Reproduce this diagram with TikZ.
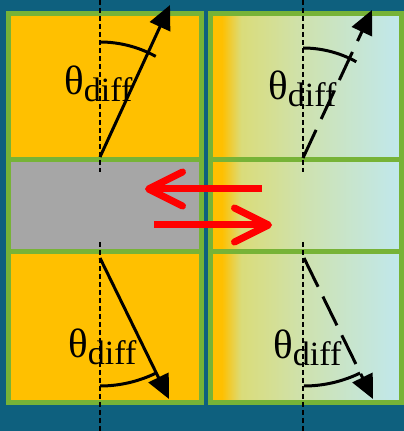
\documentclass[tikz,border=0pt]{standalone}
\usepackage{fontspec}
\newfontfamily\labelfont{Liberation Serif}
\usepackage{tikz}
\usetikzlibrary{arrows.meta}

\definecolor{bgteal}{RGB}{14,96,126}
\definecolor{cellgreen}{RGB}{119,179,55}
\definecolor{amber}{RGB}{255,192,0}
\definecolor{slab}{RGB}{166,166,166}
\definecolor{sand}{RGB}{218,220,122}
\definecolor{sage}{RGB}{206,226,176}
\definecolor{ice}{RGB}{192,232,238}
\pgfdeclarehorizontalshading{blend}{100bp}{color(0bp)=(amber); color(28bp)=(amber);
  color(33bp)=(sand); color(50bp)=(sage); color(75bp)=(ice); color(100bp)=(ice)}

\newcommand{\thdiff}{{\labelfont\fontsize{41}{41}\selectfont θ}\raisebox{-7pt}{\labelfont\fontsize{34}{34}\selectfont diff}}

\begin{document}
\begin{tikzpicture}[x=1pt, y=1pt,
    cell/.style={draw=cellgreen, line width=5pt},
    normal/.style={line width=2.5pt, dash pattern=on 5pt off 3pt},
    ray/.style={line width=3pt, -{Triangle[length=24pt, width=22pt]}},
    angarc/.style={line width=3pt},
    flux/.style={red, line width=7pt, -{Straight Barb[length=34pt, width=34pt, round]}},
    lab/.style={anchor=base west, inner sep=0pt}]
  \fill[bgteal] (0,0) rectangle (404,431);
  \useasboundingbox (0,0) rectangle (404,431);

  \fill[amber] (8.5,417.5) rectangle (201.5,271.5);
  \fill[slab] (8.5,271.5) rectangle (201.5,179.5);
  \fill[amber] (8.5,179.5) rectangle (201.5,28.5);
  \shade[shading=blend] (210.5,417.5) rectangle (401.5,271.5);
  \shade[shading=blend] (210.5,271.5) rectangle (401.5,179.5);
  \shade[shading=blend] (210.5,179.5) rectangle (401.5,28.5);
  \draw[cell] (8.5,417.5) rectangle (201.5,271.5);
  \draw[cell] (8.5,271.5) rectangle (201.5,179.5);
  \draw[cell] (8.5,179.5) rectangle (201.5,28.5);
  \draw[cell] (210.5,417.5) rectangle (401.5,271.5);
  \draw[cell] (210.5,271.5) rectangle (401.5,179.5);
  \draw[cell] (210.5,179.5) rectangle (401.5,28.5);

  \coordinate (tlbase) at (100,274);
  \coordinate (tltip) at (170,426);
  \coordinate (blbase) at (100,173);
  \coordinate (bltip) at (169,32);
  \coordinate (trbase) at (303,273);
  \coordinate (trtip) at (372,421);
  \coordinate (brbase) at (304,173);
  \coordinate (brtip) at (373,32);

  \draw[normal] (100,431) -- (100,259);
  \draw[normal] (100,189) -- (100,0);
  \draw[normal] (303,431) -- (303,259);
  \draw[normal] (303,189) -- (303,0);

  \draw[ray] (tlbase) -- (tltip);
  \draw[ray] (blbase) -- (bltip);
  \draw[ray, dash pattern=on 31pt off 12pt] (trbase) -- (trtip);
  \draw[ray, dash pattern=on 32pt off 11pt] (brbase) -- (brtip);

  \draw[angarc] (tlbase) ++(90:115) arc (90:61:115);
  \draw[angarc] (blbase) ++(-90:128) arc (-90:-64:128);
  \draw[angarc] (trbase) ++(90:110) arc (90:61:110);
  \draw[angarc] (brbase) ++(-90:128) arc (-90:-64:128);

  \node[lab] (tllab) at (64,336) {\thdiff};
  \node[lab] (trlab) at (268,331) {\thdiff};
  \node[lab] (bllab) at (68,73) {\thdiff};
  \node[lab] (brlab) at (273,72) {\thdiff};

  \coordinate (backstart) at (262,242);
  \coordinate (backtip) at (145,242);
  \coordinate (fwdstart) at (154,206);
  \coordinate (fwdtip) at (272,206);
  \draw[flux] (backstart) -- (backtip);
  \draw[flux] (fwdstart) -- (fwdtip);
\end{tikzpicture}
\end{document}
